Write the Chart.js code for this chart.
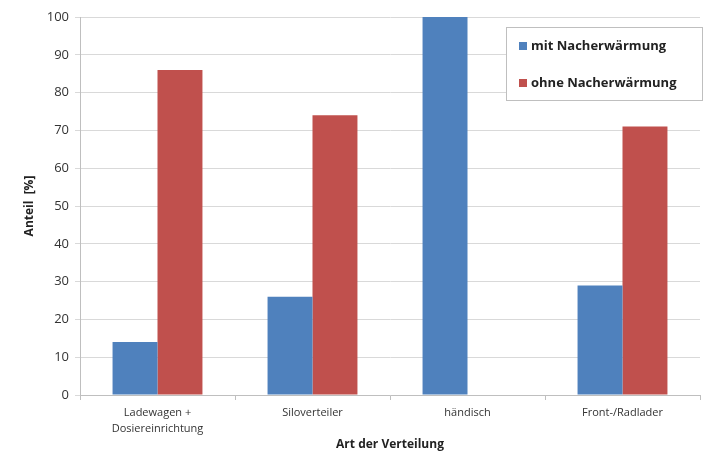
<!DOCTYPE html>
<html>
<head>
<meta charset="utf-8">
<script src="https://cdn.jsdelivr.net/npm/chart.js@4.4.0/dist/chart.umd.min.js"></script>
<style>
  html, body { margin:0; padding:0; background:#fff; }
  #wrap { width:704px; height:454px; }
</style>
</head>
<body>
<div id="wrap"><canvas id="chart" width="704" height="454"></canvas></div>
<script>
const categories = [['Ladewagen +', 'Dosiereinrichtung'], 'Siloverteiler', 'händisch', 'Front-/Radlader'];
const mitNacherwaermung   = [14, 26, 100, 29];
const ohneNacherwaermung  = [86, 74, 0, 71];
const seriesLabels = ['mit Nacherwärmung', 'ohne Nacherwärmung'];
const seriesColors = ['#4F81BD', '#C0504D'];

const FONT = '"Open Sans", "Liberation Sans", sans-serif';

// legend box drawn inside the plot, like the original
const boxLegend = {
  id: 'boxLegend',
  afterDraw(chart) {
    const ctx = chart.ctx;
    const x = 506, y = 27, w = 196, h = 73;
    ctx.save();
    ctx.fillStyle = '#fff';
    ctx.fillRect(x, y, w, h);
    ctx.strokeStyle = '#bfbfbf';
    ctx.lineWidth = 1;
    ctx.strokeRect(x + 0.5, y + 0.5, w, h);
    ctx.font = 'bold 13px ' + FONT;
    ctx.textBaseline = 'middle';
    chart.data.datasets.forEach((ds, i) => {
      const cy = y + 19 + i * 37;
      ctx.fillStyle = ds.backgroundColor;
      ctx.fillRect(x + 13, cy - 4, 8, 8);
      ctx.fillStyle = '#222';
      ctx.fillText(ds.label, x + 25, cy);
    });
    ctx.restore();
  }
};

new Chart(document.getElementById('chart'), {
  type: 'bar',
  data: {
    labels: categories,
    datasets: [
      { label: seriesLabels[0], data: mitNacherwaermung,  backgroundColor: seriesColors[0] },
      { label: seriesLabels[1], data: ohneNacherwaermung, backgroundColor: seriesColors[1] }
    ]
  },
  options: {
    responsive: false,
    animation: false,
    layout: { padding: { left: 22, right: 4, top: 17, bottom: 0 } },
    plugins: { legend: { display: false }, tooltip: { enabled: false } },
    datasets: { bar: { categoryPercentage: 0.58, barPercentage: 1.0 } },
    scales: {
      x: {
        grid: { drawOnChartArea: false, color: '#bfbfbf', tickLength: 5, offset: true },
        border: { color: '#bfbfbf' },
        ticks: { color: '#333', font: { family: FONT, size: 11, lineHeight: 1.45 }, maxRotation: 0, padding: 5 },
        title: { display: true, text: 'Art der Verteilung', color: '#222',
                 font: { family: FONT, size: 12, weight: 'bold' }, padding: { top: 2, bottom: 2 } },
        afterFit(s) { s.height = 59; }
      },
      y: {
        min: 0, max: 100,
        ticks: { stepSize: 10, color: '#333', font: { family: FONT, size: 13 }, padding: 6 },
        grid: { color: '#d9d9d9', tickLength: 5 },
        border: { color: '#bfbfbf' },
        title: { display: true, text: 'Anteil  [%]', color: '#222',
                 font: { family: FONT, size: 12, weight: 'bold' }, padding: { top: 0, bottom: 0 } },
        afterFit(s) { s.width = 58; }
      }
    }
  },
  plugins: [boxLegend]
});
</script>
</body>
</html>
